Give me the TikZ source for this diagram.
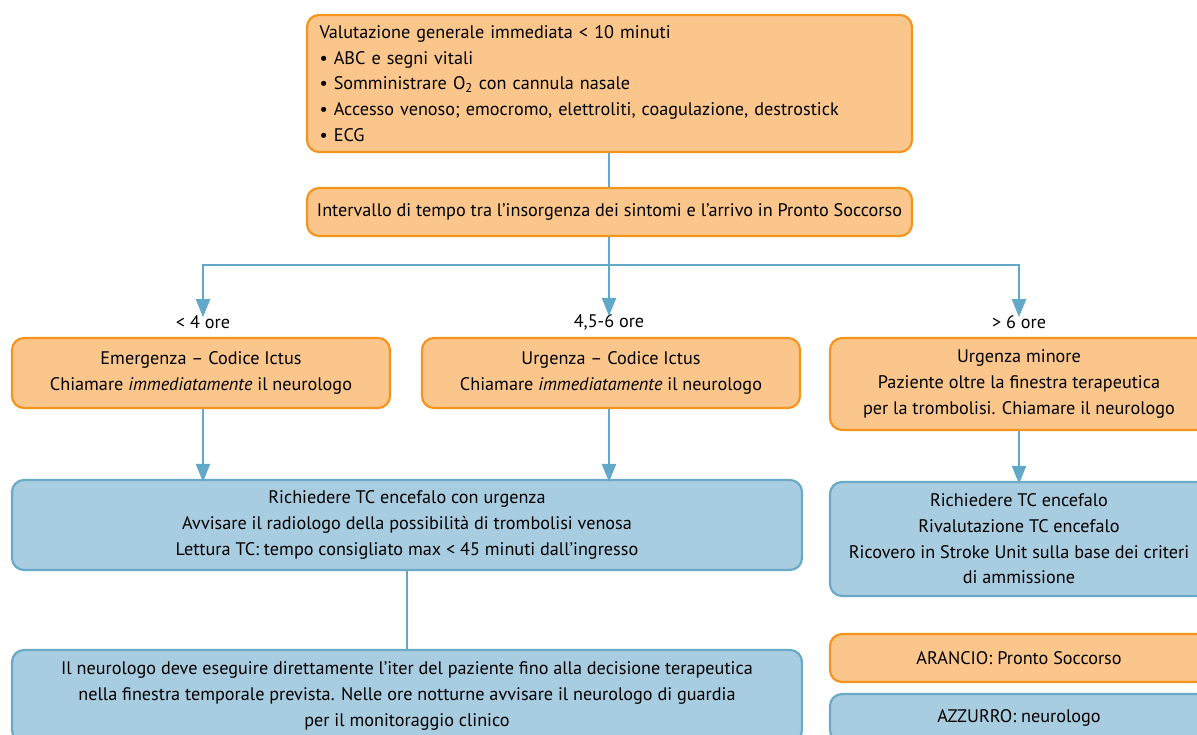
\documentclass[tikz,border=0pt]{standalone}
\usepackage{fontspec}
\setmainfont{PT Sans}
\usetikzlibrary{arrows.meta}
\definecolor{orangefill}{HTML}{FAC68C}
\definecolor{orangeline}{HTML}{F7941D}
\definecolor{bluefill}{HTML}{A9CDE0}
\definecolor{blueline}{HTML}{6AAAC9}
\definecolor{connline}{HTML}{62A8C8}
\begin{document}
\begin{tikzpicture}[x=1pt,y=-1pt,
  every node/.style={font=\fontsize{18.2}{25.7}\selectfont, inner sep=0pt},
  orangebox/.style={draw=orangeline, fill=orangefill, line width=2.2pt, rounded corners=12pt, align=center},
  bluebox/.style={draw=blueline, fill=bluefill, line width=2.2pt, rounded corners=12pt, align=center},
  conn/.style={draw=connline, line width=2.2pt},
  arr/.style={conn, -{Triangle[length=18pt,width=14pt]}},
  lbl/.style={inner sep=2pt}]
\useasboundingbox (0,0) rectangle (1197,735);
\clip (0,0) rectangle (1197,735);

% top assessment box
\node[orangebox, minimum width=605pt, minimum height=137pt, align=left, text width=580pt] (top) at (609.5,83.5)
  {Valutazione generale immediata < 10 minuti\\
   • ABC e segni vitali\\
   • Somministrare O\textsubscript{2} con cannula nasale\\
   • Accesso venoso; emocromo, elettroliti, coagulazione, destrostick\\
   • ECG};

\node[orangebox, minimum width=605pt, minimum height=48pt] (interv) at (609.5,212)
  {Intervallo di tempo tra l’insorgenza dei sintomi e l’arrivo in Pronto Soccorso};

% time-window labels
\node[lbl] (l1) at (203,322) {< 4 ore};
\node[lbl] (l2) at (609,322) {4,5-6 ore};
\node[lbl] (l3) at (1019,322) {> 6 ore};

% triage boxes
\node[orangebox, minimum width=378pt, minimum height=70pt] (emerg) at (201,373)
  {Emergenza – Codice Ictus\\ Chiamare \textit{immediatamente} il neurologo};
\node[orangebox, minimum width=378pt, minimum height=70pt] (urg) at (611,373)
  {Urgenza – Codice Ictus\\ Chiamare \textit{immediatamente} il neurologo};
\node[orangebox, minimum width=378pt, minimum height=92pt] (minor) at (1019,384)
  {Urgenza minore\\ Paziente oltre la finestra terapeutica\\ per la trombolisi. Chiamare il neurologo};

% neurologist boxes
\node[bluebox, minimum width=790pt, minimum height=90pt] (tc) at (407,525)
  {Richiedere TC encefalo con urgenza\\ Avvisare il radiologo della possibilità di trombolisi venosa\\ Lettura TC: tempo consigliato max < 45 minuti dall’ingresso};
\node[bluebox, minimum width=378pt, minimum height=114pt] (tcr) at (1019,539)
  {Richiedere TC encefalo\\ Rivalutazione TC encefalo\\ Ricovero in Stroke Unit sulla base dei criteri\\ di ammissione};
\node[bluebox, minimum width=790pt, minimum height=92pt] (neuro) at (407,696)
  {Il neurologo deve eseguire direttamente l’iter del paziente fino alla decisione terapeutica\\ nella finestra temporale prevista. Nelle ore notturne avvisare il neurologo di guardia\\ per il monitoraggio clinico};

% legend
\node[orangebox, minimum width=378pt, minimum height=48pt] (legor) at (1019,658) {ARANCIO: Pronto Soccorso};
\node[bluebox, minimum width=378pt, minimum height=48pt] (legbl) at (1019,718) {AZZURRO: neurologo};

% connectors
\coordinate (hub) at (609,265);
\draw[conn] (top.south -| hub) -- (interv.north -| hub);
\draw[conn] (interv.south -| hub) -- (hub);
\draw[arr] (hub) -| ([yshift=-4pt]l1.north);
\draw[arr] (hub) -| ([yshift=-4pt]l3.north);
\draw[arr] (hub) -- ([yshift=-4pt]l2.north);
\draw[arr] (emerg.south -| l1) -- ([yshift=-3pt]tc.north -| l1);
\draw[arr] (urg.south -| l2) -- ([yshift=-3pt]tc.north -| l2);
\draw[arr] (minor.south) -- ([yshift=-3pt]tcr.north);
\draw[conn] (tc.south) -- (neuro.north);
\end{tikzpicture}
\end{document}
